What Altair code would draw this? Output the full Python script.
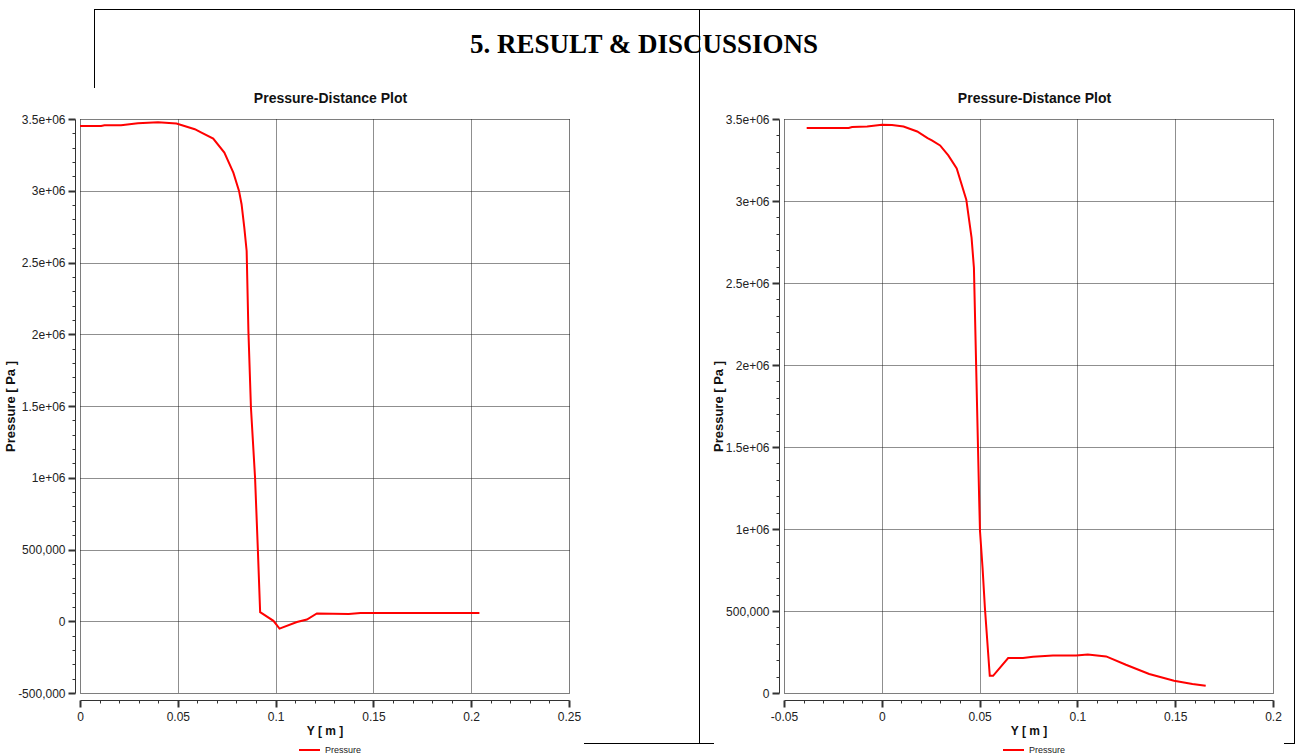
import altair as alt
import pandas as pd

# ---------------- data ----------------
left_y_m = [0.0, 0.0108, 0.0125, 0.021, 0.0296, 0.0399, 0.0493, 0.0587, 0.0621,
            0.0681, 0.0738, 0.0784, 0.0813, 0.0826, 0.0840, 0.0852, 0.0861, 0.0874,
            0.0895, 0.0909, 0.0921, 0.0989, 0.102, 0.1109, 0.116, 0.1211, 0.1374,
            0.1434, 0.2042]
left_pressure_pa = [3452000, 3452000, 3457000, 3457000, 3471000, 3478000, 3468000,
                    3429000, 3405000, 3364000, 3266000, 3126000, 2999000, 2906000,
                    2743000, 2580000, 2022000, 1488000, 999000, 511000, 63000, 3000,
                    -51000, -5000, 12000, 54000, 51000, 58000, 58000]

right_y_m = [-0.0384, -0.0169, -0.0152, -0.0075, 0.0001, 0.0052, 0.0111, 0.0181,
             0.0234, 0.0256, 0.0298, 0.034, 0.0383, 0.0432, 0.0459, 0.0471, 0.0498,
             0.0502, 0.0515, 0.0527, 0.0552, 0.0569, 0.0646, 0.0722, 0.0773, 0.0875,
             0.0994, 0.1053, 0.1147, 0.1248, 0.1367, 0.1494, 0.1588, 0.1656]
right_pressure_pa = [3445000, 3445000, 3451000, 3455000, 3465000, 3463000, 3454000,
                     3424000, 3384000, 3370000, 3339000, 3278000, 3199000, 3008000,
                     2775000, 2592000, 1171000, 988000, 765000, 521000, 105000, 105000,
                     213000, 213000, 221000, 229000, 229000, 235000, 223000, 172000,
                     116000, 75000, 55000, 44000]

series_names = ["Pressure"]
chart_title = "Pressure-Distance Plot"
x_title = "Y [ m ]"
y_title = "Pressure [ Pa ]"
page_heading = "5. RESULT & DISCUSSIONS"

left_x_major = [0, 0.05, 0.1, 0.15, 0.2, 0.25]
left_x_labels = ["0", "0.05", "0.1", "0.15", "0.2", "0.25"]
right_x_major = [-0.05, 0, 0.05, 0.1, 0.15, 0.2]
right_x_labels = ["-0.05", "0", "0.05", "0.1", "0.15", "0.2"]
left_y_major = [-500000, 0, 500000, 1000000, 1500000, 2000000, 2500000, 3000000, 3500000]
left_y_labels = ["-500,000", "0", "500,000", "1e+06", "1.5e+06", "2e+06", "2.5e+06", "3e+06", "3.5e+06"]
right_y_major = [0, 500000, 1000000, 1500000, 2000000, 2500000, 3000000, 3500000]
right_y_labels = ["0", "500,000", "1e+06", "1.5e+06", "2e+06", "2.5e+06", "3e+06", "3.5e+06"]

# minor tick positions (every 0.01 m and every 100,000 Pa)
left_x_ticks = [round(i * 0.01, 2) for i in range(26)]
right_x_ticks = [round(-0.05 + i * 0.01, 2) for i in range(26)]
left_y_ticks = [-500000 + i * 100000 for i in range(41)]
right_y_ticks = [i * 100000 for i in range(36)]

# ---------------- styling helpers ----------------
W, H = 489, 574
SPACING = 215
RED = "#ff0000"
FONT = "Liberation Sans"

X_MAJOR = "abs(datum.value*20 - round(datum.value*20)) < 1e-6"
Y_MAJOR = "abs(datum.value/500000 - round(datum.value/500000)) < 1e-6"


def label_expr(values, labels, tol):
    expr = "''"
    for v, l in reversed(list(zip(values, labels))):
        expr = f"abs(datum.value - ({v})) < {tol} ? '{l}' : {expr}"
    return expr


def make_axis(ticks, majors, labels, tol, major_test, offset, title, title_size,
              label_padding, title_padding):
    return alt.Axis(
        values=ticks,
        labelExpr=label_expr(majors, labels, tol),
        grid=True,
        gridColor="#1e1e1e",
        gridDash=[1, 1],
        gridWidth=1,
        gridOpacity={"condition": {"test": major_test, "value": 1}, "value": 0},
        tickSize={"condition": {"test": major_test, "value": 7}, "value": 3},
        tickWidth={"condition": {"test": major_test, "value": 2}, "value": 1},
        tickColor="#333333",
        domainColor="#333333",
        offset=offset,
        labelOverlap=False,
        labelFlush=False,
        labelBound=False,
        labelFont=FONT,
        labelFontSize=12,
        labelColor="#222222",
        labelPadding=label_padding,
        title=title,
        titleFont=FONT,
        titleFontSize=title_size,
        titleFontWeight="bold",
        titleColor="#111111",
        titlePadding=title_padding,
    )


one = pd.DataFrame({"k": [0]})


def rule(x1, y1, x2, y2, color="black", width=1):
    return alt.Chart(one).mark_rule(color=color, strokeWidth=width).encode(
        x=alt.value(x1), x2=alt.value(x2), y=alt.value(y1), y2=alt.value(y2))


def text(t, x, y, **kw):
    return alt.Chart(one).mark_text(**kw).encode(
        x=alt.value(x), y=alt.value(y), text=alt.value(t))


def panel(xs, ps, x_dom, y_dom, x_ticks, x_major, x_labels, y_ticks, y_major, y_labels):
    df = pd.DataFrame({"y_m": xs, "p": ps, "series": series_names[0]})
    line = alt.Chart(df).mark_line(color=RED, strokeWidth=2).encode(
        x=alt.X("y_m:Q", scale=alt.Scale(domain=x_dom, nice=False, zero=False),
                axis=make_axis(x_ticks, x_major, x_labels, 1e-6, X_MAJOR, 7,
                               x_title, 12, 4, 3)),
        y=alt.Y("p:Q", scale=alt.Scale(domain=y_dom, nice=False, zero=False),
                axis=make_axis(y_ticks, y_major, y_labels, 1, Y_MAJOR, 5,
                               y_title, 13, 3, 0)),
    )
    ttl = text(chart_title, W / 2 + 6, -16, font=FONT, fontSize=14, fontWeight="bold",
               align="center", baseline="alphabetic", color="#111111")
    leg_line = rule(219, 631, 240, 631, color=RED, width=2)
    leg_text = text(series_names[0], 245, 631, font=FONT, fontSize=9, align="left",
                    baseline="middle", color="#222222")
    return [line, ttl, leg_line, leg_text]


left_layers = panel(left_y_m, left_pressure_pa, [0, 0.25], [-500000, 3500000],
                    left_x_ticks, left_x_major, left_x_labels,
                    left_y_ticks, left_y_major, left_y_labels)
# white anchor at the page's top-left corner
left_layers.append(rule(-78.5, -117.5, -78.5, -117, color="white"))
left = alt.layer(*left_layers).properties(width=W, height=H)

right_layers = panel(right_y_m, right_pressure_pa, [-0.05, 0.2], [0, 3500000],
                     right_x_ticks, right_x_major, right_x_labels,
                     right_y_ticks, right_y_major, right_y_labels)
# page frame lines and heading (relative to the right plot's origin)
right_layers += [
    rule(-690, -109.5, 510.5, -109.5),
    rule(-689.5, -110, -689.5, -31),
    rule(-84.5, -110, -84.5, 624),
    rule(510.5, -110, 510.5, 624),
    rule(-200, 624.5, -70, 624.5),
    rule(500, 624.5, 511, 624.5),
    text(page_heading, -140, -66, font="Liberation Serif", fontSize=27,
         fontWeight="bold", align="center", baseline="alphabetic", color="black"),
]
right = alt.layer(*right_layers).properties(width=W, height=H)

chart = alt.hconcat(left, right, spacing=SPACING, bounds="flush", padding=0).resolve_scale(
    x="independent", y="independent"
).configure_view(strokeWidth=0).configure(background="white")

chart.save("out.html", embed_options={"renderer": "svg", "actions": False})
